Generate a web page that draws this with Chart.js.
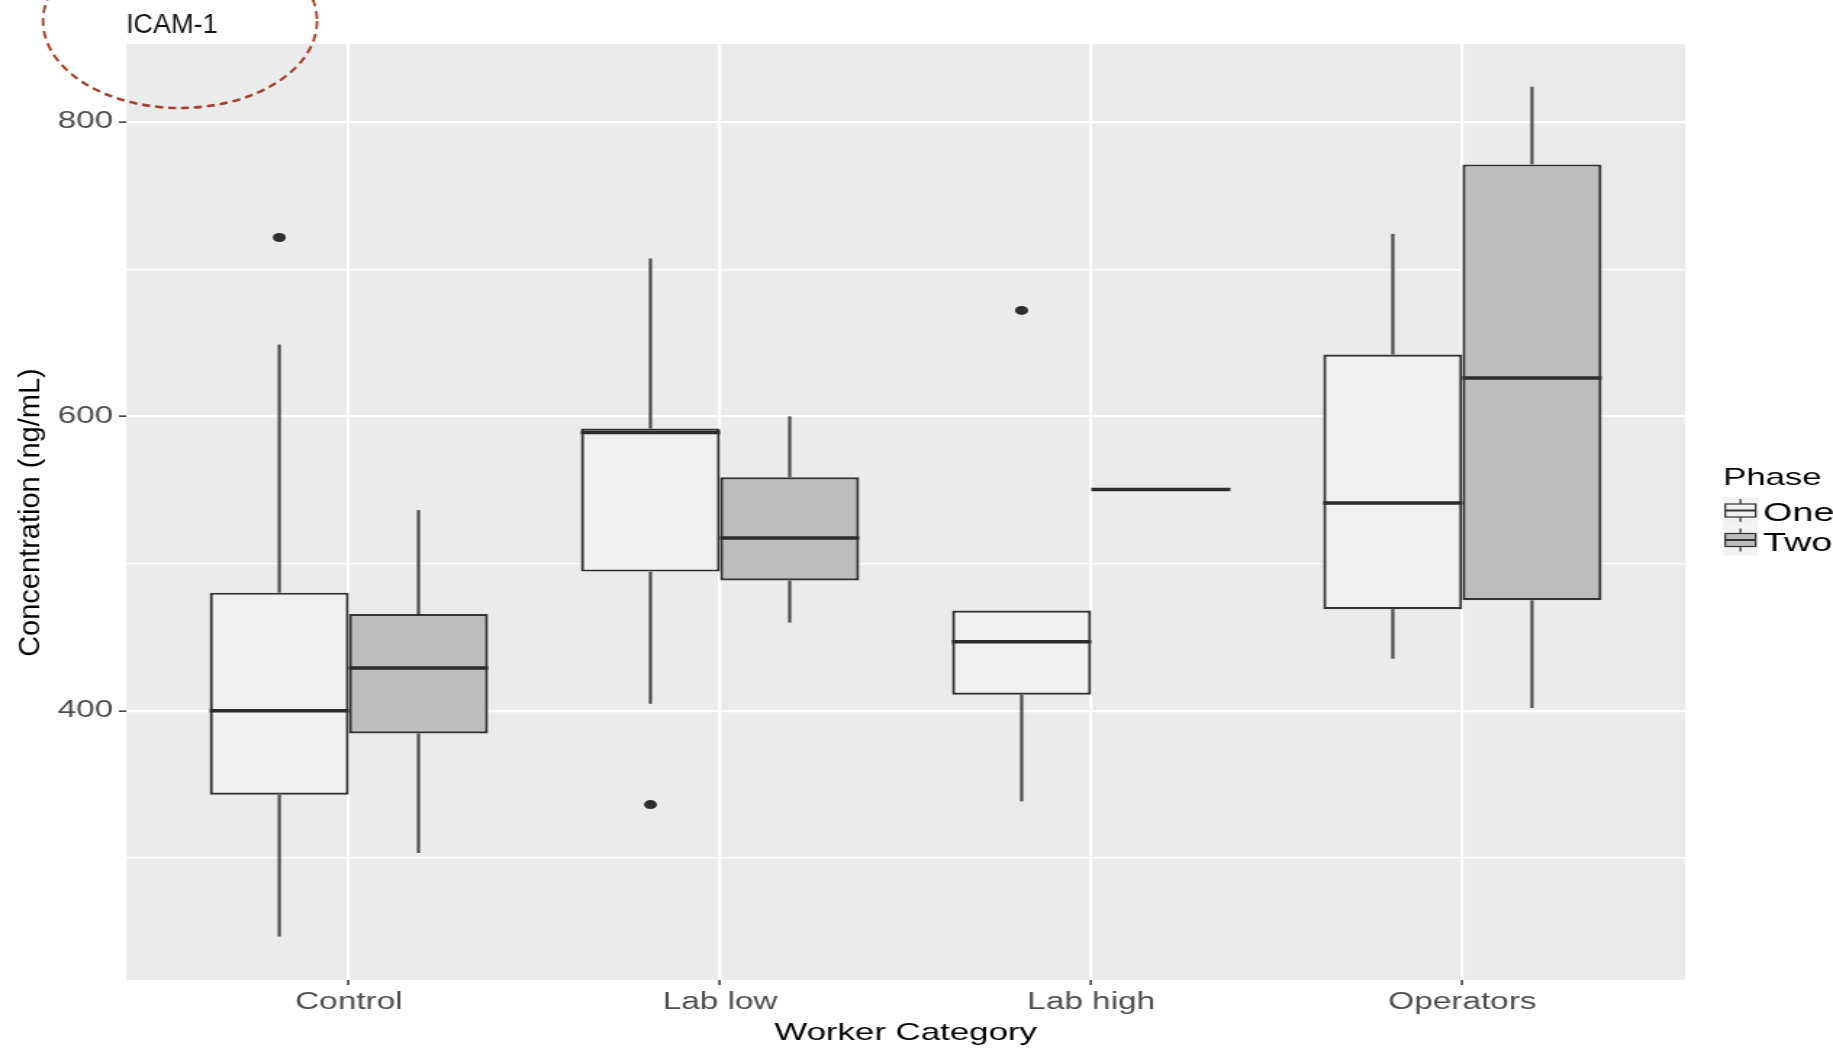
<!DOCTYPE html>
<html>
<head>
<meta charset="utf-8">
<title>ICAM-1</title>
<script src="https://cdn.jsdelivr.net/npm/chart.js@4.4.0/dist/chart.umd.min.js"></script>
<style>
  html, body { margin: 0; padding: 0; background: #fff; overflow: hidden; }
  #chart { display: block; transform-origin: 0 0; }
</style>
</head>
<body>
<canvas id="chart" width="1264" height="1049"></canvas>
<script>
// the source figure is stretched sideways, so draw narrow and scale x
const S = 1833 / 1264;
const FONT = "'Liberation Sans', Arial, sans-serif";

const categories = ["Control", "Lab low", "Lab high", "Operators"];
const phaseNames = ["One", "Two"];

// Phase One five-number summaries + outliers
const oneMin = [246.5, 404.7, 338.4, 435.3];
const oneQ1 = [342.9, 494.5, 410.8, 469.0];
const oneMedian = [400.0, 589.0, 446.8, 541.2];
const oneQ3 = [480.2, 591.7, 468.0, 642.0];
const oneMax = [648.8, 707.3, 468.0, 724.0];
const oneOutliers = [[721.5], [336.2], [672.0], []];

// Phase Two
const twoMin = [303.3, 459.9, 550.3, 401.8];
const twoQ1 = [384.5, 488.5, 550.3, 475.0];
const twoMedian = [429.0, 517.4, 550.3, 626.0];
const twoQ3 = [465.7, 558.6, 550.3, 771.2];
const twoMax = [536.3, 600.0, 550.3, 824.0];
const twoOutliers = [[], [], [], []];

const yTicks = [300, 400, 500, 600, 700, 800];
const yLabelled = [400, 600, 800];

const phaseStats = [
  { min: oneMin, q1: oneQ1, med: oneMedian, q3: oneQ3, max: oneMax, out: oneOutliers },
  { min: twoMin, q1: twoQ1, med: twoMedian, q3: twoQ3, max: twoMax, out: twoOutliers },
];
const boxFills = ["#f0f0f0", "#bdbdbd"];

const canvas = document.getElementById("chart");
canvas.style.transform = `scaleX(${S})`;

function line(ctx, x1, y1, x2, y2) {
  ctx.beginPath();
  ctx.moveTo(x1, y1);
  ctx.lineTo(x2, y2);
  ctx.stroke();
}

const boxplotParts = {
  id: "boxplotParts",
  beforeDraw(chart) {
    const { ctx, chartArea: a } = chart;
    ctx.save();
    ctx.fillStyle = "#ebebeb";
    ctx.fillRect(a.left, a.top, a.right - a.left, a.bottom - a.top);
    ctx.restore();
  },
  afterDatasetsDraw(chart) {
    const { ctx, scales: { y } } = chart;
    ctx.save();
    phaseStats.forEach((st, d) => {
      const meta = chart.getDatasetMeta(d);
      meta.data.forEach((bar, i) => {
        const half = bar.width / 2;
        // whiskers
        ctx.strokeStyle = "#4d4d4d";
        ctx.lineWidth = 2.2;
        if (st.max[i] > st.q3[i]) {
          line(ctx, bar.x, y.getPixelForValue(st.q3[i]), bar.x, y.getPixelForValue(st.max[i]));
        }
        if (st.min[i] < st.q1[i]) {
          line(ctx, bar.x, y.getPixelForValue(st.q1[i]), bar.x, y.getPixelForValue(st.min[i]));
        }
        // median
        const ym = y.getPixelForValue(st.med[i]);
        ctx.strokeStyle = "#2b2b2b";
        ctx.lineWidth = 3.5;
        line(ctx, bar.x - half, ym, bar.x + half, ym);
        // outliers
        ctx.fillStyle = "#2e2e2e";
        st.out[i].forEach((v) => {
          ctx.beginPath();
          ctx.arc(bar.x, y.getPixelForValue(v), 4.5, 0, 2 * Math.PI);
          ctx.fill();
        });
      });
    });
    ctx.restore();
  },
  afterDraw(chart) {
    const { ctx } = chart;
    ctx.save();

    // Legend (stretched like the rest)
    const lx = 1723 / S;
    ctx.font = `24px ${FONT}`;
    ctx.fillStyle = "#000";
    ctx.textBaseline = "middle";
    ctx.textAlign = "left";
    ctx.fillText("Phase", lx, 478);
    phaseNames.forEach((name, k) => {
      const top = 497 + k * 29.5;
      ctx.fillStyle = "#f2f2f2";
      ctx.fillRect(lx, top, 24, 29);
      const cx = lx + 12;
      ctx.strokeStyle = "#333";
      ctx.lineWidth = 1.2;
      line(ctx, cx, top + 2, cx, top + 25);
      ctx.fillStyle = boxFills[k];
      ctx.fillRect(lx + 1.5, top + 7, 21, 13);
      ctx.strokeRect(lx + 1.5, top + 7, 21, 13);
      ctx.lineWidth = 2;
      line(ctx, lx + 1.5, top + 13.5, lx + 22.5, top + 13.5);
      ctx.fillStyle = "#000";
      ctx.font = `26px ${FONT}`;
      ctx.fillText(name, 1763 / S, top + 17);
    });

    // Unstretched parts: y title, panel label and the hand-drawn ellipse
    ctx.scale(1 / S, 1);
    ctx.fillStyle = "#111";
    ctx.font = `27px ${FONT}`;
    ctx.textBaseline = "alphabetic";
    ctx.fillText("ICAM-1", 126, 33);

    ctx.beginPath();
    ctx.ellipse(180, 21, 137, 87, 0, 0, 2 * Math.PI);
    ctx.setLineDash([8, 5]);
    ctx.lineWidth = 2.6;
    ctx.strokeStyle = "#a1412b";
    ctx.stroke();
    ctx.setLineDash([]);

    ctx.translate(31.5, 512.6);
    ctx.rotate(-Math.PI / 2);
    ctx.fillStyle = "#000";
    ctx.font = `29px ${FONT}`;
    ctx.textAlign = "center";
    ctx.textBaseline = "middle";
    ctx.fillText("Concentration (ng/mL)", 0, 0);
    ctx.restore();
  },
};

const datasets = phaseStats.map((st, d) => ({
  label: phaseNames[d],
  data: categories.map((c, i) => ({ x: i, y: [st.q1[i], st.q3[i]] })),
  backgroundColor: boxFills[d],
  borderColor: "#333",
  borderWidth: 2.2,
  borderSkipped: false,
  categoryPercentage: 0.75,
  barPercentage: 1.0,
}));

new Chart(canvas, {
  type: "bar",
  data: { datasets: datasets },
  options: {
    responsive: false,
    animation: false,
    devicePixelRatio: 1,
    layout: { padding: { top: 44, right: 102, left: 0, bottom: 0 } },
    plugins: { legend: { display: false }, tooltip: { enabled: false } },
    scales: {
      x: {
        type: "linear",
        min: -0.6,
        max: 3.6,
        offset: false,
        afterBuildTicks: (s) => {
          s.ticks = categories.map((c, i) => ({ value: i }));
        },
        afterFit: (s) => {
          s.height = 69;
        },
        grid: {
          offset: false,
          color: "#ffffff",
          lineWidth: 2.2,
          tickColor: "#333",
          tickLength: 5,
          tickWidth: 1.5,
        },
        border: { display: false },
        ticks: {
          autoSkip: false,
          maxRotation: 0,
          padding: 6,
          color: "#4d4d4d",
          font: { family: FONT, size: 23, lineHeight: 1 },
          callback: (v) => categories[v],
        },
        title: {
          display: true,
          text: "Worker Category",
          color: "#000",
          font: { family: FONT, size: 24, lineHeight: 1 },
          padding: { top: 0, bottom: 4 },
        },
      },
      y: {
        type: "linear",
        min: 217,
        max: 853,
        afterBuildTicks: (s) => {
          s.ticks = yTicks.map((v) => ({ value: v }));
        },
        afterFit: (s) => {
          s.width = 87;
        },
        grid: {
          color: "#ffffff",
          lineWidth: (c) => (yLabelled.includes(c.tick.value) ? 2.3 : 1.2),
          tickColor: (c) => (yLabelled.includes(c.tick.value) ? "#333" : "rgba(0,0,0,0)"),
          tickLength: 5,
          tickWidth: 1.5,
        },
        border: { display: false },
        ticks: {
          autoSkip: false,
          padding: 4,
          color: "#4d4d4d",
          font: { family: FONT, size: 23, lineHeight: 1 },
          callback: (v) => (yLabelled.includes(v) ? String(v) : ""),
        },
      },
    },
  },
  plugins: [boxplotParts],
});
</script>
</body>
</html>
